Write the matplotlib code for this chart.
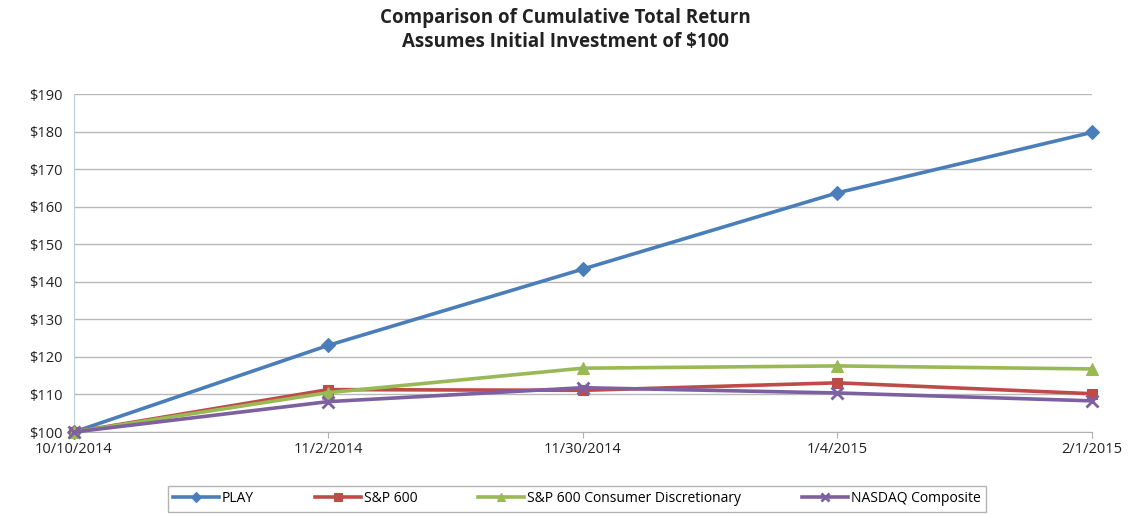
import matplotlib
matplotlib.use("Agg")
import matplotlib.pyplot as plt

# ── data ──────────────────────────────────────────────────────────────────────
dates = ["10/10/2014", "11/2/2014", "11/30/2014", "1/4/2015", "2/1/2015"]
play = [100, 123.1, 143.4, 163.7, 179.8]
sp600 = [100, 111.3, 111.1, 113.1, 110.2]
sp600_cd = [100, 110.5, 117.0, 117.6, 116.8]
nasdaq = [100, 108.1, 111.8, 110.4, 108.3]

FONT = ["Open Sans", "DejaVu Sans"]
plt.rcParams["font.family"] = FONT

series = [
    ("PLAY", play, "#4A7EBB", "D", 7),
    ("S&P 600", sp600, "#BE4B48", "s", 7),
    ("S&P 600 Consumer Discretionary", sp600_cd, "#98B954", "^", 8),
    ("NASDAQ Composite", nasdaq, "#7D60A0", "x", 8),
]

fig = plt.figure(figsize=(11.31, 5.14), dpi=100, facecolor="white")
ax = fig.add_axes([0.0654, 0.1595, 0.9001, 0.6575])

x = list(range(len(dates)))
for name, vals, col, mk, ms in series:
    ax.plot(x, vals, color=col, linewidth=2.6, marker=mk, markersize=ms,
            markeredgewidth=2 if mk == "x" else 0.8, markeredgecolor=col,
            markerfacecolor=col, label=name, clip_on=False, zorder=3)

ax.set_xlim(0, len(dates) - 1)
ax.set_ylim(100, 190)
ax.set_yticks(range(100, 191, 10))
ax.set_yticklabels([f"${v}" for v in range(100, 191, 10)], fontsize=10.5, color="#222222")
ax.set_xticks(x)
ax.set_xticklabels(dates, fontsize=10.5, color="#222222")
ax.tick_params(axis="y", length=0, pad=8)
ax.tick_params(axis="x", length=4, color="#b0b0b0", pad=3)
ax.grid(axis="y", color="#b8b8b8", linewidth=1)
ax.set_axisbelow(True)
for sp in ["top", "right"]:
    ax.spines[sp].set_visible(False)
ax.spines["left"].set_color("#b9cde0")
ax.spines["bottom"].set_color("#b0b0b0")

fig.text(0.5, 0.985, "Comparison of Cumulative Total Return\nAssumes Initial Investment of $100",
         ha="center", va="top", fontsize=13.5, fontweight="bold", color="#222222",
         linespacing=1.3)

leg = fig.legend(loc="center", bbox_to_anchor=(0.51, 0.03), ncol=4, fontsize=10,
                 frameon=True, fancybox=False, edgecolor="#a0a0a0",
                 handlelength=3.3, columnspacing=4.4, handletextpad=0.2,
                 borderpad=0.4, borderaxespad=0, markerscale=0.75)
leg.get_frame().set_linewidth(1)

fig.savefig("out.png", dpi=100, facecolor="white")
